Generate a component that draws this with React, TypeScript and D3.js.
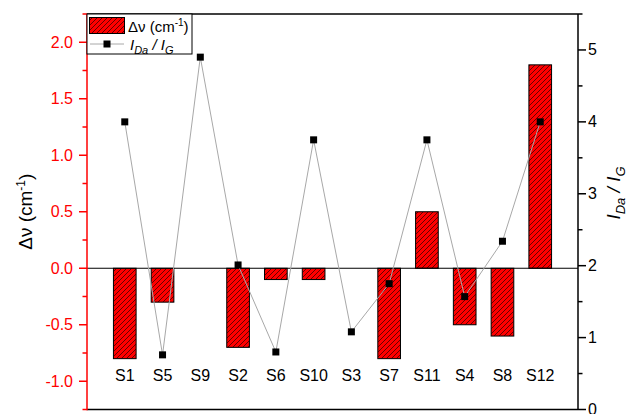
import React from "react";
import * as d3 from "d3";

const categories = ["S1", "S5", "S9", "S2", "S6", "S10", "S3", "S7", "S11", "S4", "S8", "S12"];
const deltaNu = [-0.8, -0.3, 0, -0.7, -0.1, -0.1, 0, -0.8, 0.5, -0.5, -0.6, 1.8];
const ratio = [4.0, 0.76, 4.9, 2.01, 0.8, 3.75, 1.08, 1.75, 3.75, 1.57, 2.34, 4.0];
const leftMajor = [-1.0, -0.5, 0.0, 0.5, 1.0, 1.5, 2.0];
const leftMinor = [-1.25, -0.75, -0.25, 0.25, 0.75, 1.25, 1.75, 2.25];
const rightMajor = [0, 1, 2, 3, 4, 5];
const rightMinor = [0.5, 1.5, 2.5, 3.5, 4.5, 5.5];

const W = 629, H = 414;
const L = 87, R = 578, T = 14, B = 409.5;
const FONT = "Liberation Sans, Arial, sans-serif";
const RED = "#ff0000";

export default function App() {
  const x = d3.scaleLinear().domain([0, categories.length + 1]).range([L, R]);
  const yL = d3.scaleLinear().domain([-1.25, 2.25]).range([B, T]);
  const yR = d3.scaleLinear().domain([0, 5.5]).range([B, T]);
  const step = x(1) - x(0);
  const bw = step * 0.6;
  const line = d3.line<number>().x((_, i) => x(i + 1)).y((d) => yR(d));

  return (
    <svg width={W} height={H} style={{ position: "absolute", left: 0, top: 0, background: "#fff" }} fontFamily={FONT}>
      <defs>
        <pattern id="hatch" patternUnits="userSpaceOnUse" width={5} height={5}>
          <rect width={5} height={5} fill={RED} />
          <path d="M-1,1 l2,-2 M0,5 l5,-5 M4,6 l2,-2" stroke="#000" strokeWidth={0.6} />
        </pattern>
      </defs>
      <rect x={0} y={0} width={W} height={H} fill="#fff" />

      {/* bars */}
      {deltaNu.map((v, i) =>
        v === 0 ? null : (
          <rect
            key={"b" + i}
            x={x(i + 1) - bw / 2}
            y={Math.min(yL(v), yL(0))}
            width={bw}
            height={Math.abs(yL(v) - yL(0))}
            fill="url(#hatch)"
            stroke="#000"
            strokeWidth={1}
          />
        )
      )}
      {/* zero line */}
      <line x1={L} x2={R} y1={yL(0)} y2={yL(0)} stroke="#000" strokeWidth={1.2} />

      {/* ratio line */}
      <path d={line(ratio) || ""} fill="none" stroke="#a8a8a8" strokeWidth={1} />
      {ratio.map((v, i) => (
        <rect key={"p" + i} x={x(i + 1) - 3.5} y={yR(v) - 3.5} width={7} height={7} fill="#000" />
      ))}

      {/* category labels */}
      {categories.map((c, i) => (
        <text key={"c" + i} x={x(i + 1)} y={381} fontSize={16} textAnchor="middle" fill="#000">
          {c}
        </text>
      ))}

      {/* frame */}
      <line x1={L} x2={R} y1={T} y2={T} stroke="#000" strokeWidth={1.5} />
      <line x1={L} x2={R} y1={B} y2={B} stroke="#000" strokeWidth={1.5} />
      <line x1={R} x2={R} y1={T} y2={B} stroke="#000" strokeWidth={1.5} />
      <line x1={L} x2={L} y1={T} y2={B + 0.75} stroke={RED} strokeWidth={1.5} />

      {/* left axis ticks */}
      {leftMajor.map((v) => (
        <g key={"lm" + v}>
          <line x1={L - 8} x2={L} y1={yL(v)} y2={yL(v)} stroke={RED} strokeWidth={1.5} />
          <text x={L - 14} y={yL(v) + 5.5} fontSize={16} textAnchor="end" fill={RED}>
            {d3.format(".1f")(v).replace("−", "-")}
          </text>
        </g>
      ))}
      {leftMinor.map((v) => (
        <line key={"ln" + v} x1={L - 4.5} x2={L} y1={yL(v)} y2={yL(v)} stroke={RED} strokeWidth={1.5} />
      ))}

      {/* right axis ticks */}
      {rightMajor.map((v) => (
        <g key={"rm" + v}>
          <line x1={R} x2={R + 8} y1={yR(v)} y2={yR(v)} stroke="#000" strokeWidth={1.5} />
          <text x={R + 10} y={yR(v) + 5.5} fontSize={16} textAnchor="start" fill="#000">
            {v}
          </text>
        </g>
      ))}
      {rightMinor.map((v) => (
        <line key={"rn" + v} x1={R} x2={R + 4.5} y1={yR(v)} y2={yR(v)} stroke="#000" strokeWidth={1.5} />
      ))}

      {/* axis titles */}
      <text transform={`translate(32, ${(T + B) / 2}) rotate(-90)`} fontSize={19} textAnchor="middle" fill="#000">
        Δν (cm<tspan dy={-7} fontSize={12}>-1</tspan><tspan dy={7}>)</tspan>
      </text>
      <text transform={`translate(620, 193) rotate(-90)`} fontSize={19} textAnchor="middle" fill="#000" fontStyle="italic">
        I<tspan dy={5} fontSize={13}>Da</tspan><tspan dy={-5}> / I</tspan><tspan dy={5} fontSize={13}>G</tspan>
      </text>

      {/* legend */}
      <rect x={L} y={T} width={105} height={40} fill="#fff" stroke="#000" strokeWidth={1} />
      <rect x={89.5} y={17.5} width={35} height={16} fill="url(#hatch)" stroke="#000" strokeWidth={1} />
      <text x={128} y={32} fontSize={15} fill="#000">
        Δν (cm<tspan dy={-6} fontSize={10}>-1</tspan><tspan dy={6}>)</tspan>
      </text>
      <line x1={90} x2={124} y1={44} y2={44} stroke="#a8a8a8" strokeWidth={1} />
      <rect x={103.5} y={40.5} width={7} height={7} fill="#000" />
      <text x={130} y={50} fontSize={15} fill="#000" fontStyle="italic">
        I<tspan dy={4} fontSize={11}>Da</tspan><tspan dy={-4}> / I</tspan><tspan dy={4} fontSize={11}>G</tspan>
      </text>
    </svg>
  );
}
